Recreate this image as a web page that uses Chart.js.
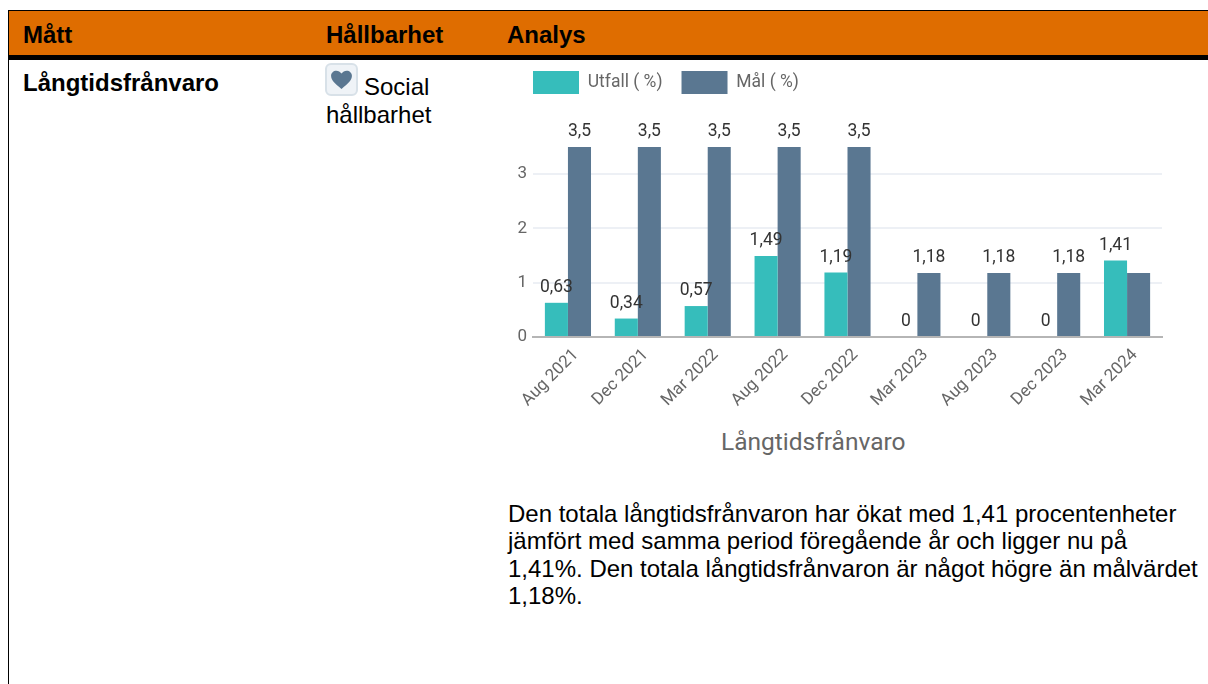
<!DOCTYPE html>
<html lang="sv">
<head>
<meta charset="utf-8">
<title>Långtidsfrånvaro</title>
<script src="https://cdn.jsdelivr.net/npm/chart.js@4"></script>
<style>
  html, body { margin: 0; padding: 0; background: #fff; overflow: hidden; }
  body { width: 1208px; height: 684px; position: relative; font-family: "Liberation Sans", Arial, sans-serif; font-size: 24px; color: #000; }
  .frame { position: absolute; left: 8px; top: 10px; width: 1200px; height: 674px; border-left: 1px solid #000; border-top: 1px solid #000; box-sizing: border-box; }
  .head { position: absolute; left: 9px; top: 11px; width: 1199px; height: 44px; background: #df6d00; border-bottom: 5px solid #000; }
  .t { position: absolute; white-space: nowrap; line-height: 27.5px; }
  .b { font-weight: bold; }
  #wrap { position: absolute; left: 508px; top: 52px; width: 680px; height: 365px; }
  .icon { position: absolute; left: 325px; top: 63px; width: 33px; height: 33px; box-sizing: border-box; background: #eff3f7; border: 2px solid #d8e1e8; border-radius: 6px; text-align: center; }
  .charttitle { position: absolute; left: 721px; top: 426px; color: #666; font-family: Roboto, sans-serif; font-size: 24.5px; line-height: 32px; white-space: nowrap; }
</style>
</head>
<body>
<div class="frame"></div>
<div class="head"></div>
<div class="t b" style="left:23px;top:21px">Mått</div>
<div class="t b" style="left:326px;top:21px">Hållbarhet</div>
<div class="t b" style="left:507px;top:21px">Analys</div>
<div class="t b" style="left:23px;top:69px">Långtidsfrånvaro</div>
<div class="icon"><svg width="25" height="25" viewBox="0 0 24 24" style="margin-top:2px"><path fill="#5a7791" d="M12 21C5 15.500 2 12.400 2 8.500 2 5.400 4.400 3.500 7 3.500c2 0 3.800 1 5 2.800 1.200-1.800 3-2.800 5-2.800 2.600 0 5 1.900 5 5 0 3.900-3 7-10 12.500z"/></svg></div>
<div class="t" style="left:364px;top:73px">Social</div>
<div class="t" style="left:326px;top:101px">hållbarhet</div>
<div id="wrap"><canvas id="myChart"></canvas></div>
<div class="charttitle">Långtidsfrånvaro</div>
<div class="t" style="left:508px;top:500px">Den totala långtidsfrånvaron har ökat med 1,41 procentenheter</div>
<div class="t" style="left:508px;top:527px">jämfört med samma period föregående år och ligger nu på</div>
<div class="t" style="left:508px;top:555px">1,41%. Den totala långtidsfrånvaron är något högre än målvärdet</div>
<div class="t" style="left:508px;top:582px">1,18%.</div>
<script>
const categories = ['Aug 2021', 'Dec 2021', 'Mar 2022', 'Aug 2022', 'Dec 2022', 'Mar 2023', 'Aug 2023', 'Dec 2023', 'Mar 2024'];
const utfall = [0.63, 0.34, 0.57, 1.49, 1.19, 0, 0, 0, 1.41];
const mal = [3.5, 3.5, 3.5, 3.5, 3.5, 1.18, 1.18, 1.18, 1.18];
const yTicks = [0, 1, 2, 3];

// values printed above each bar, with decimal comma. a label that would
// run into one already drawn is left out, like the last 1,18
const barLabels = {
  id: 'barLabels',
  afterDatasetsDraw(chart) {
    const ctx = chart.ctx;
    const drawn = [];
    ctx.save();
    ctx.font = '17.5px Roboto';
    ctx.fillStyle = '#333';
    ctx.textAlign = 'center';
    ctx.textBaseline = 'middle';
    chart.data.datasets.forEach((ds, i) => {
      chart.getDatasetMeta(i).data.forEach((bar, j) => {
        const text = String(ds.data[j]).replace('.', ',');
        const w = ctx.measureText(text).width;
        const y = bar.y - 15;
        const hit = drawn.some(r => Math.abs(r.x - bar.x) < (r.w + w) / 2 && Math.abs(r.y - y) < 16);
        if (hit) return;
        drawn.push({ x: bar.x, y: y, w: w });
        ctx.fillText(text, bar.x, y);
      });
    });
    ctx.restore();
  }
};

// room between legend and plot
const legendGap = {
  id: 'legendGap',
  beforeInit(chart) {
    const fit = chart.legend.fit;
    chart.legend.fit = function () {
      fit.call(this);
      this.height += 43;
    };
  }
};

const ctx = document.getElementById('myChart').getContext('2d');
const chartInstance = new Chart(ctx, {
  type: 'bar',
  data: {
    labels: categories,
    datasets: [
      { label: 'Utfall ( %)', data: utfall, backgroundColor: '#36bdbb' },
      { label: 'Mål ( %)', data: mal, backgroundColor: '#5a7791' }
    ]
  },
  plugins: [barLabels, legendGap],
  options: {
    responsive: true,
    maintainAspectRatio: false,
    animation: false,
    layout: { padding: { left: 6, right: 26, top: 0, bottom: 0 } },
    datasets: { bar: { barPercentage: 1, categoryPercentage: 0.66 } },
    plugins: {
      legend: {
        position: 'top',
        align: 'start',
        labels: {
          boxWidth: 46,
          boxHeight: 23,
          padding: 19,
          color: '#666',
          font: { family: 'Roboto', size: 17.5 }
        }
      },
      tooltip: { enabled: false }
    },
    scales: {
      x: {
        grid: { display: false },
        border: { color: '#b5b5b5', width: 2 },
        afterFit(scale) { scale.height = 80; },
        ticks: { color: '#666', font: { family: 'Roboto', size: 17 }, maxRotation: 45, minRotation: 45, padding: 0, labelOffset: 8 }
      },
      y: {
        min: 0,
        max: 3.5,
        afterFit(scale) { scale.width = 19; },
        afterBuildTicks(scale) { scale.ticks = yTicks.map(v => ({ value: v })); },
        grid: { color: '#edf0f5', lineWidth: 2, drawTicks: false },
        border: { display: false },
        ticks: { color: '#666', font: { family: 'Roboto', size: 17 }, padding: 6 }
      }
    }
  }
});
</script>
</body>
</html>
